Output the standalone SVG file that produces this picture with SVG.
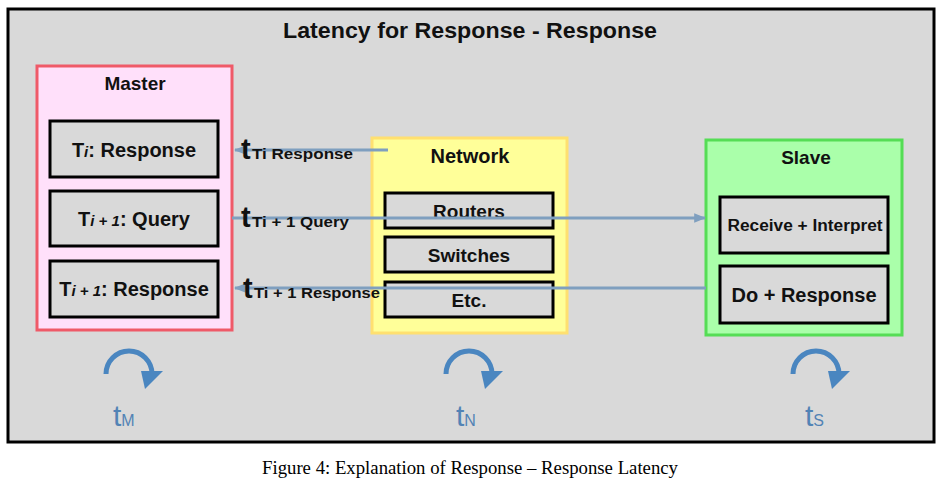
<svg xmlns="http://www.w3.org/2000/svg" width="949" height="479" viewBox="0 0 949 479">
<defs>
<style>
.t{font-family:"Liberation Sans",Arial,sans-serif;font-weight:bold;fill:#111;}
.sub{fill:#d9d9d9;stroke:#000;stroke-width:3;}
.con{stroke:#7f9fbf;stroke-width:3;fill:none;}
.rot{stroke:#4a86c0;stroke-width:5;fill:none;}
.lbl{font-family:"Liberation Sans",Arial,sans-serif;fill:#5283b5;}
</style>
<marker id="ah" viewBox="0 0 10 10" refX="9" refY="5" markerWidth="4" markerHeight="4" orient="auto" markerUnits="strokeWidth">
<path d="M0,1 L10,5 L0,9 z" fill="#7f9fbf"/>
</marker>
</defs>
<rect width="949" height="479" fill="#fff"/>
<g id="frame">
<rect x="8" y="9" width="926" height="433" fill="#d9d9d9" stroke="#000" stroke-width="3"/>
<text class="t" x="283" y="38" font-size="22" textLength="374" lengthAdjust="spacingAndGlyphs">Latency for Response - Response</text>
</g>
<g id="master">
<rect x="37" y="66" width="195" height="264" fill="#ffe0fa" stroke="#ef5a68" stroke-width="3"/>
<text class="t" x="135" y="90" font-size="19" text-anchor="middle">Master</text>
<rect class="sub" x="50" y="121" width="168" height="56"/>
<text class="t" x="134" y="157" font-size="20" text-anchor="middle">T<tspan font-style="italic" font-size="15">i</tspan>: Response</text>
<rect class="sub" x="50" y="191" width="168" height="55"/>
<text class="t" x="134" y="226" font-size="20" text-anchor="middle">T<tspan font-style="italic" font-size="15">i + 1</tspan>: Query</text>
<rect class="sub" x="50" y="261" width="168" height="56"/>
<text class="t" x="134" y="296" font-size="20" text-anchor="middle">T<tspan font-style="italic" font-size="15">i + 1</tspan>: Response</text>
</g>
<g id="network">
<rect x="372" y="138" width="195" height="195" fill="#ffff99" stroke="#ffe070" stroke-width="3"/>
<text class="t" x="470" y="163" font-size="20" text-anchor="middle">Network</text>
<rect class="sub" x="385" y="193" width="168" height="35"/>
<text class="t" x="469" y="218" font-size="19" text-anchor="middle">Routers</text>
<rect class="sub" x="385" y="237" width="168" height="35"/>
<text class="t" x="469" y="262" font-size="19" text-anchor="middle">Switches</text>
<rect class="sub" x="385" y="282" width="168" height="35"/>
<text class="t" x="469" y="307" font-size="19" text-anchor="middle">Etc.</text>
</g>
<g id="slave">
<rect x="706" y="140" width="196" height="195" fill="#aaffaa" stroke="#55dd55" stroke-width="3"/>
<text class="t" x="806" y="164" font-size="19" text-anchor="middle">Slave</text>
<rect class="sub" x="720" y="197" width="168" height="56"/>
<text class="t" x="805" y="231" font-size="16" text-anchor="middle" textLength="155" lengthAdjust="spacingAndGlyphs">Receive + Interpret</text>
<rect class="sub" x="720" y="266" width="168" height="57"/>
<text class="t" x="804" y="302" font-size="20" text-anchor="middle">Do + Response</text>
</g>
<g id="connectors">
<line class="con" x1="388" y1="150" x2="235" y2="150" marker-end="url(#ah)"/>
<line class="con" x1="232" y1="218" x2="705" y2="218" marker-end="url(#ah)"/>
<line class="con" x1="706" y1="288" x2="235" y2="288" marker-end="url(#ah)"/>
</g>
<g id="labels">
<text class="t" x="241" y="159" font-size="29">t</text>
<text class="t" x="252" y="159" font-size="15" textLength="101" lengthAdjust="spacingAndGlyphs">Ti  Response</text>
<text class="t" x="241" y="227" font-size="29">t</text>
<text class="t" x="252" y="227" font-size="15" textLength="97" lengthAdjust="spacingAndGlyphs">Ti + 1 Query</text>
<text class="t" x="243" y="298" font-size="29">t</text>
<text class="t" x="254" y="298" font-size="15" textLength="126" lengthAdjust="spacingAndGlyphs">Ti + 1 Response</text>
</g>
<g id="clocks">
<path class="rot" d="M106,374 A23,23 0 0 1 152,374"/>
<path d="M141,371 L163,371 L145,389 z" fill="#4a86c0"/>
<text class="lbl" x="113" y="426" font-size="30">t<tspan font-size="16">M</tspan></text>
<path class="rot" d="M446,374 A23,23 0 0 1 492,374"/>
<path d="M481,371 L503,371 L485,389 z" fill="#4a86c0"/>
<text class="lbl" x="456" y="426" font-size="30">t<tspan font-size="16">N</tspan></text>
<path class="rot" d="M793,374 A23,23 0 0 1 839,374"/>
<path d="M828,371 L850,371 L832,389 z" fill="#4a86c0"/>
<text class="lbl" x="805" y="426" font-size="30">t<tspan font-size="16">S</tspan></text>
</g>
<text x="262" y="474" font-family="Liberation Serif,'Times New Roman',serif" font-size="18" textLength="416" lengthAdjust="spacingAndGlyphs" fill="#000">Figure 4: Explanation of Response – Response Latency</text>
</svg>
